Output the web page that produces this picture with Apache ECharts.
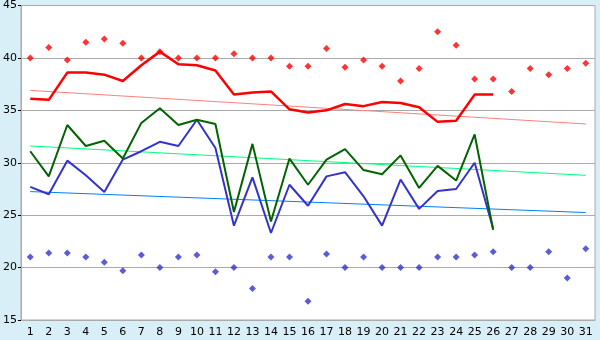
<!DOCTYPE html>
<html>
<head>
<meta charset="utf-8">
<script src="https://cdn.jsdelivr.net/npm/echarts@6/dist/echarts.min.js"></script>
<style>
  html, body { margin: 0; padding: 0; background: #d9eff7; }
  #chart { width: 600px; height: 340px; }
</style>
</head>
<body>
<div id="chart"></div>
<script>
// days of the month
const days = [];
for (let d = 1; d <= 31; d++) days.push(String(d));

// daily max / min points
const maxPts = [40.0, 41.0, 39.8, 41.5, 41.8, 41.4, 40.0, 40.6, 40.0, 40.0,
  40.0, 40.4, 40.0, 40.0, 39.2, 39.2, 40.9, 39.1, 39.8, 39.2,
  37.8, 39.0, 42.5, 41.2, 38.0, 38.0, 36.8, 39.0, 38.4, 39.0, 39.5];
const minPts = [21.0, 21.4, 21.4, 21.0, 20.5, 19.7, 21.2, 20.0, 21.0, 21.2,
  19.6, 20.0, 18.0, 21.0, 21.0, 16.8, 21.3, 20.0, 21.0, 20.0,
  20.0, 20.0, 21.0, 21.0, 21.2, 21.5, 20.0, 20.0, 21.5, 19.0, 21.8];

// lines (first 26 days)
const redLine = [36.1, 36.0, 38.6, 38.6, 38.4, 37.8, 39.3, 40.6, 39.4, 39.3,
  38.8, 36.5, 36.7, 36.8, 35.1, 34.8, 35.0, 35.6, 35.4, 35.8,
  35.7, 35.3, 33.9, 34.0, 36.5, 36.5];
const greenLine = [31.1, 28.7, 33.6, 31.6, 32.1, 30.4, 33.8, 35.2, 33.6, 34.1,
  33.7, 25.3, 31.8, 24.4, 30.4, 27.9, 30.3, 31.3, 29.3, 28.9,
  30.7, 27.6, 29.7, 28.3, 32.7, 23.6];
const blueLine = [27.7, 27.0, 30.2, 28.8, 27.2, 30.3, 31.1, 32.0, 31.6, 34.1,
  31.4, 24.0, 28.6, 23.3, 27.9, 25.9, 28.7, 29.1, 26.8, 24.0,
  28.4, 25.6, 27.3, 27.5, 30.0, 23.7];

// trend lines: start (day 1) and end (day 31)
const redTrend = [36.9, 33.7];
const greenTrend = [31.6, 28.8];
const blueTrend = [27.25, 25.25];

function ends(pair) {
  return days.map((d, i) => i === 0 ? pair[0] : (i === days.length - 1 ? pair[1] : null));
}

let myChart = echarts.init(document.getElementById("chart"));
myChart.setOption({
  backgroundColor: "#d9eff7",
  animation: false,
  grid: {
    left: 20, right: 5, top: 5, bottom: 20,
    show: true,
    backgroundColor: "#ffffff",
    borderColor: "#aaaaaa",
    borderWidth: 1
  },
  xAxis: {
    type: "category",
    data: days,
    boundaryGap: true,
    axisLine: { lineStyle: { color: "#aaaaaa" } },
    axisTick: { alignWithLabel: true, length: 5, lineStyle: { color: "#000000" } },
    axisLabel: { color: "#000", fontSize: 11, fontFamily: "DejaVu Sans", margin: 7, interval: 0 },
    splitLine: { show: false }
  },
  yAxis: {
    type: "value",
    min: 15, max: 45, interval: 5,
    axisLine: { show: true, lineStyle: { color: "#aaaaaa" } },
    axisTick: { show: true, length: 3, lineStyle: { color: "#000000" } },
    axisLabel: { color: "#000", fontSize: 11, fontFamily: "DejaVu Sans", margin: 4 },
    splitLine: { lineStyle: { color: "#aaaaaa" } }
  },
  series: [
    { type: "line", data: ends(redTrend), connectNulls: true, symbol: "none",
      lineStyle: { color: "#ff8080", width: 1 } },
    { type: "line", data: ends(greenTrend), connectNulls: true, symbol: "none",
      lineStyle: { color: "#00ff80", width: 1 } },
    { type: "line", data: ends(blueTrend), connectNulls: true, symbol: "none",
      lineStyle: { color: "#0080ff", width: 1 } },
    { type: "scatter", data: maxPts, symbol: "diamond", symbolSize: 7,
      itemStyle: { color: "#ff0000" } },
    { type: "scatter", data: minPts, symbol: "diamond", symbolSize: 7,
      itemStyle: { color: "#3333cc" } },
    { type: "line", data: blueLine, symbol: "none",
      lineStyle: { color: "#3333cc", width: 2 } },
    { type: "line", data: greenLine, symbol: "none",
      lineStyle: { color: "#006400", width: 2 } },
    { type: "line", data: redLine, symbol: "none",
      lineStyle: { color: "#ff0000", width: 2.5 } }
  ]
});
</script>
</body>
</html>
